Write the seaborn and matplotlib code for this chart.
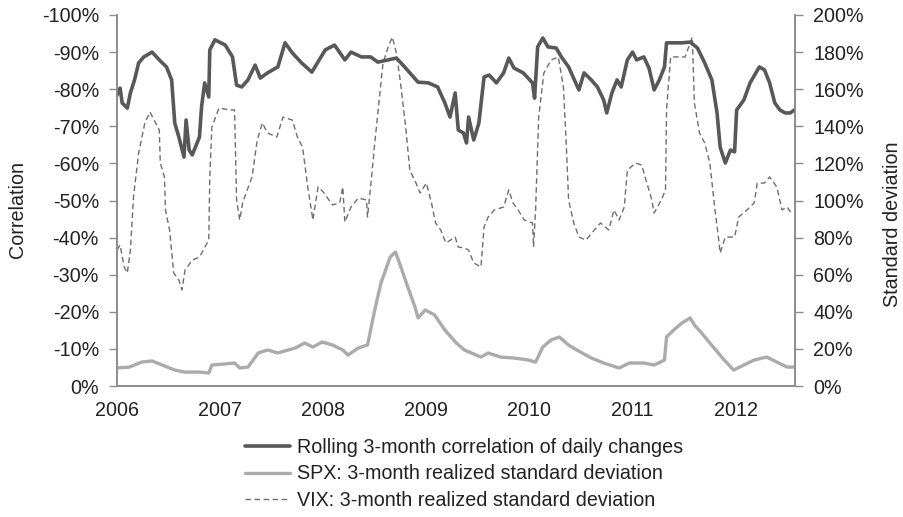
import numpy as np
import pandas as pd
import matplotlib
matplotlib.use("Agg")
import matplotlib.pyplot as plt
import seaborn as sns
from matplotlib.lines import Line2D

# ---------------- data ----------------
corr_t = [2006.00, 2006.03, 2006.05, 2006.10, 2006.13, 2006.17, 2006.21, 2006.26, 2006.34, 2006.41,
          2006.48, 2006.53, 2006.56, 2006.60, 2006.65, 2006.67, 2006.70, 2006.73, 2006.80, 2006.82,
          2006.85, 2006.89, 2006.90, 2006.95, 2007.05, 2007.12, 2007.16, 2007.21, 2007.27, 2007.34,
          2007.39, 2007.46, 2007.56, 2007.63, 2007.70, 2007.79, 2007.89, 2008.02, 2008.11, 2008.21,
          2008.27, 2008.37, 2008.46, 2008.53, 2008.63, 2008.71, 2008.79, 2008.92, 2009.02, 2009.11,
          2009.18, 2009.23, 2009.28, 2009.31, 2009.36, 2009.39, 2009.41, 2009.46, 2009.51, 2009.56,
          2009.61, 2009.68, 2009.75, 2009.80, 2009.85, 2009.94, 2010.03, 2010.05, 2010.08, 2010.13,
          2010.18, 2010.26, 2010.31, 2010.38, 2010.48, 2010.53, 2010.60, 2010.66, 2010.72, 2010.75,
          2010.80, 2010.85, 2010.89, 2010.95, 2011.00, 2011.04, 2011.11, 2011.16, 2011.21, 2011.26,
          2011.31, 2011.33, 2011.40, 2011.48, 2011.56, 2011.63, 2011.70, 2011.77, 2011.82, 2011.85,
          2011.90, 2011.95, 2011.99, 2012.01, 2012.08, 2012.14, 2012.23, 2012.28, 2012.33, 2012.38,
          2012.43, 2012.48, 2012.53, 2012.57]
corr_v = [-78.4, -80.3, -76.3, -74.9, -79.0, -82.5, -87.1, -88.7, -90.0, -87.9,
          -86.0, -82.5, -70.9, -67.1, -61.7, -71.7, -63.6, -62.3, -67.1, -75.2,
          -81.7, -77.9, -90.6, -93.3, -91.9, -88.7, -81.1, -80.6, -82.5, -86.5,
          -83.0, -84.4, -86.0, -92.5, -89.8, -87.1, -84.6, -90.6, -91.9, -87.9,
          -90.0, -88.7, -88.7, -87.3, -87.9, -88.4, -86.0, -81.9, -81.7, -80.6,
          -76.3, -72.5, -79.0, -69.0, -68.2, -65.5, -72.5, -66.3, -70.9, -83.3,
          -83.8, -81.7, -84.4, -88.4, -85.7, -84.4, -81.7, -77.6, -91.4, -93.8,
          -91.4, -91.1, -88.7, -86.0, -79.8, -84.4, -82.5, -80.6, -77.1, -73.6,
          -79.0, -82.5, -80.6, -87.9, -90.0, -87.9, -88.7, -85.7, -79.8, -82.5,
          -86.0, -92.5, -92.5, -92.5, -92.7, -91.1, -87.1, -82.5, -73.6, -64.4,
          -60.1, -63.6, -63.1, -74.4, -77.1, -81.7, -86.0, -85.2, -81.7, -76.3,
          -74.4, -73.6, -73.6, -74.4]

spx_t = [2006.00, 2006.12, 2006.24, 2006.34, 2006.44, 2006.56, 2006.66, 2006.80, 2006.89, 2006.92,
         2007.05, 2007.14, 2007.19, 2007.27, 2007.37, 2007.46, 2007.56, 2007.66, 2007.73, 2007.82,
         2007.90, 2007.99, 2008.09, 2008.19, 2008.24, 2008.34, 2008.43, 2008.50, 2008.56, 2008.65,
         2008.70, 2008.74, 2008.82, 2008.89, 2008.92, 2008.99, 2009.08, 2009.18, 2009.29, 2009.37,
         2009.53, 2009.60, 2009.72, 2009.85, 2009.99, 2010.06, 2010.13, 2010.21, 2010.29, 2010.38,
         2010.46, 2010.60, 2010.72, 2010.87, 2010.97, 2011.11, 2011.21, 2011.31, 2011.33, 2011.40,
         2011.48, 2011.56, 2011.60, 2011.67, 2011.75, 2011.89, 2011.98, 2012.04, 2012.18, 2012.30,
         2012.40, 2012.50, 2012.57]
spx_v = [9.7, 10.2, 12.9, 13.5, 11.3, 8.6, 7.5, 7.5, 7.0, 11.3,
         11.9, 12.4, 9.7, 10.2, 17.8, 19.4, 17.8, 19.4, 20.5, 23.2,
         21.0, 23.7, 22.1, 19.4, 16.7, 20.5, 22.1, 41.0, 55.5, 69.5,
         72.2, 66.3, 53.4, 42.6, 36.7, 41.0, 38.3, 30.2, 23.2, 19.4,
         15.6, 17.8, 15.6, 15.1, 14.0, 12.9, 21.0, 24.8, 26.4, 22.1,
         19.4, 15.1, 12.4, 9.7, 12.4, 12.4, 11.3, 14.0, 26.4, 30.2,
         34.0, 36.7, 32.9, 28.6, 23.2, 14.0, 8.6, 10.2, 14.0, 15.6,
         12.9, 10.2, 10.2]

vix_t = [2006.00, 2006.03, 2006.07, 2006.10, 2006.13, 2006.16, 2006.21, 2006.27, 2006.32, 2006.36,
         2006.41, 2006.42, 2006.46, 2006.47, 2006.51, 2006.55, 2006.60, 2006.63, 2006.66, 2006.73,
         2006.80, 2006.89, 2006.90, 2006.92, 2006.99, 2007.09, 2007.14, 2007.16, 2007.19, 2007.22,
         2007.31, 2007.36, 2007.41, 2007.46, 2007.55, 2007.61, 2007.70, 2007.75, 2007.80, 2007.85,
         2007.90, 2007.95, 2008.00, 2008.09, 2008.16, 2008.19, 2008.21, 2008.27, 2008.34, 2008.42,
         2008.43, 2008.46, 2008.50, 2008.55, 2008.58, 2008.63, 2008.67, 2008.71, 2008.75, 2008.80,
         2008.84, 2008.90, 2008.94, 2009.00, 2009.05, 2009.09, 2009.14, 2009.19, 2009.28, 2009.31,
         2009.37, 2009.41, 2009.46, 2009.53, 2009.56, 2009.60, 2009.66, 2009.75, 2009.80, 2009.84,
         2009.89, 2009.95, 2010.03, 2010.04, 2010.06, 2010.09, 2010.14, 2010.21, 2010.28, 2010.33,
         2010.36, 2010.38, 2010.43, 2010.48, 2010.55, 2010.63, 2010.69, 2010.77, 2010.82, 2010.87,
         2010.92, 2010.95, 2011.03, 2011.09, 2011.13, 2011.18, 2011.21, 2011.28, 2011.32, 2011.33,
         2011.37, 2011.45, 2011.51, 2011.58, 2011.60, 2011.65, 2011.70, 2011.75, 2011.80, 2011.84,
         2011.85, 2011.90, 2011.99, 2012.03, 2012.11, 2012.18, 2012.21, 2012.28, 2012.33, 2012.40,
         2012.45, 2012.50, 2012.55]
vix_v = [73.3, 76.0, 64.2, 60.9, 73.3, 101.9, 125.6, 141.8, 147.7, 143.4,
         138.0, 120.2, 112.7, 94.9, 84.1, 60.9, 57.1, 51.8, 62.5, 67.9,
         69.5, 78.7, 112.7, 139.6, 149.9, 148.8, 148.8, 100.3, 89.5, 99.2,
         112.7, 132.6, 141.8, 136.4, 134.2, 145.0, 143.4, 134.2, 128.8, 107.3,
         89.5, 107.3, 104.6, 97.6, 98.7, 107.3, 88.4, 96.5, 101.3, 100.3,
         91.1, 107.3, 131.0, 158.0, 174.1, 182.7, 188.1, 179.5, 163.3, 139.6,
         116.4, 109.4, 104.0, 109.4, 98.7, 87.9, 84.1, 77.1, 80.3, 74.9,
         74.4, 73.3, 66.3, 64.2, 85.7, 91.1, 94.9, 96.5, 105.7, 98.7,
         94.9, 89.5, 87.9, 74.9, 94.9, 145.0, 168.7, 175.7, 177.4, 161.2,
         127.2, 100.3, 87.9, 80.3, 78.7, 84.1, 87.9, 84.1, 94.9, 89.5,
         96.5, 116.4, 120.2, 119.1, 111.1, 101.9, 93.3, 100.3, 105.7, 148.8,
         177.4, 177.4, 177.4, 188.1, 152.6, 136.4, 131.0, 120.2, 94.9, 77.1,
         71.7, 80.3, 80.3, 91.1, 94.9, 98.7, 109.4, 109.4, 112.7, 107.3,
         94.9, 96.5, 92.2]

year_ticks = [2006, 2007, 2008, 2009, 2010, 2011, 2012]
corr_ticks = [0, -10, -20, -30, -40, -50, -60, -70, -80, -90, -100]
std_ticks = [0, 20, 40, 60, 80, 100, 120, 140, 160, 180, 200]

labels = ["Rolling 3-month correlation of daily changes",
          "SPX: 3-month realized standard deviation",
          "VIX: 3-month realized standard deviation"]

# ---------------- styling ----------------
sns.set_style("white")
plt.rcParams['font.family'] = ['Liberation Sans', 'DejaVu Sans']
FS = 14.2
TXT = '#222222'
AXC = '#8c8c8c'

df_corr = pd.DataFrame({"t": corr_t, "v": corr_v})
df_spx = pd.DataFrame({"t": spx_t, "v": spx_v})
df_vix = pd.DataFrame({"t": vix_t, "v": vix_v})

fig = plt.figure(figsize=(9.04, 5.17), dpi=100)
ax = fig.add_axes([117/904, 1-386/517, (795-117)/904, (386-15)/517])
ax2 = ax.twinx()

c_corr = '#585858'
c_spx = '#ababab'
c_vix = '#6e6e6e'

sns.lineplot(data=df_vix, x="t", y="v", ax=ax2, color=c_vix, lw=1.0,
             linestyle=(0, (4, 2.5)), estimator=None, sort=False, zorder=2)
sns.lineplot(data=df_spx, x="t", y="v", ax=ax2, color=c_spx, lw=2.4,
             estimator=None, sort=False, zorder=3)
sns.lineplot(data=df_corr, x="t", y="v", ax=ax, color=c_corr, lw=2.6,
             estimator=None, sort=False)

ax.set_zorder(ax2.get_zorder() + 1)
ax.patch.set_visible(False)

ax.set_xlim(2006, 2012.576)
ax.set_ylim(0, -100)
ax2.set_ylim(0, 200)

ax.set_xticks(year_ticks)
ax.set_xticklabels([str(y) for y in year_ticks])
ax.set_yticks(corr_ticks)
ax.set_yticklabels([f"{v}%" for v in corr_ticks])
ax2.set_yticks(std_ticks)
ax2.set_yticklabels([f"{v}%" for v in std_ticks])

ax.tick_params(axis='x', direction='in', length=7, width=1, color=AXC,
               labelsize=FS, labelcolor=TXT, pad=11)
ax.tick_params(axis='y', direction='out', length=6, width=1, color=AXC,
               labelsize=FS, labelcolor=TXT, pad=7, left=True)
ax2.tick_params(axis='y', direction='out', length=6, width=1, color=AXC,
                labelsize=FS, labelcolor=TXT, pad=7, right=True)

for a in (ax, ax2):
    a.set_xlabel("")
    for s in a.spines.values():
        s.set_color(AXC)
        s.set_linewidth(1.2)
    a.spines['top'].set_visible(False)
    a.grid(False)

ax.set_ylabel("Correlation", fontsize=FS, color=TXT)
ax.yaxis.set_label_coords((18-117)/678, (386-210)/371)
ax.yaxis.label.set_va('center')
ax2.set_ylabel("Standard deviation", fontsize=FS, color=TXT, rotation=90)
ax2.yaxis.set_label_coords((893-117)/678, (386-224)/371)
ax2.yaxis.label.set_va('center')
ax2.yaxis.label.set_ha('center')

handles = [Line2D([], [], color=c_corr, lw=2.6),
           Line2D([], [], color=c_spx, lw=2.4),
           Line2D([], [], color=c_vix, lw=1.0, linestyle=(0, (4, 2.5)))]
fig.legend(handles, labels, loc='upper left', bbox_to_anchor=(245/904, 1-438/517),
           frameon=False, fontsize=FS, handlelength=2.3, handletextpad=0.35,
           labelspacing=0.38, borderpad=0, borderaxespad=0, labelcolor=TXT)

fig.savefig("out.png", dpi=100)
